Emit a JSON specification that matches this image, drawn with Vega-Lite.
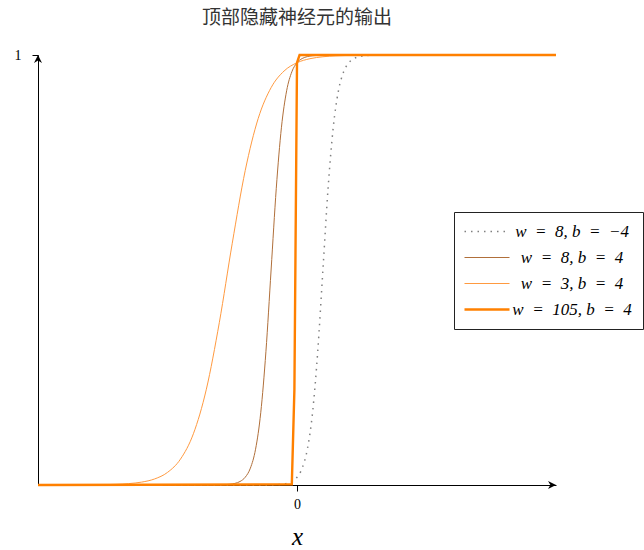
{
  "$schema": "https://vega.github.io/schema/vega-lite/v6.json",
  "width": 518,
  "height": 430,
  "autosize": "none",
  "padding": {"left": 38, "top": 55, "right": 88, "bottom": 65},
  "background": "white",
  "title": {"text": "顶部隐藏神经元的输出", "font": "Noto Sans CJK SC", "fontSize": 19, "fontWeight": "normal", "color": "#333333", "offset": 20, "anchor": "middle"},
  "config": {"view": {"stroke": null}},
  "datasets": {
    "curves": [
      {"series": "A", "x": -5, "y": 0},
      {"series": "A", "x": -1, "y": 0.000006},
      {"series": "A", "x": -0.6, "y": 0.00015},
      {"series": "A", "x": -0.4, "y": 0.00075},
      {"series": "A", "x": -0.3, "y": 0.00166},
      {"series": "A", "x": -0.2, "y": 0.00368},
      {"series": "A", "x": -0.1, "y": 0.00816},
      {"series": "A", "x": 0, "y": 0.01799},
      {"series": "A", "x": 0.1, "y": 0.0392},
      {"series": "A", "x": 0.2, "y": 0.0832},
      {"series": "A", "x": 0.3, "y": 0.168},
      {"series": "A", "x": 0.4, "y": 0.31},
      {"series": "A", "x": 0.5, "y": 0.5},
      {"series": "A", "x": 0.6, "y": 0.69},
      {"series": "A", "x": 0.7, "y": 0.832},
      {"series": "A", "x": 0.8, "y": 0.9168},
      {"series": "A", "x": 0.9, "y": 0.9608},
      {"series": "A", "x": 1.0, "y": 0.982},
      {"series": "A", "x": 1.1, "y": 0.9918},
      {"series": "A", "x": 1.2, "y": 0.9963},
      {"series": "A", "x": 1.3, "y": 0.9983},
      {"series": "A", "x": 1.4, "y": 0.99925},
      {"series": "A", "x": 1.6, "y": 0.99985},
      {"series": "A", "x": 2, "y": 1},
      {"series": "A", "x": 5, "y": 1},

      {"series": "B", "x": -5, "y": 0},
      {"series": "B", "x": -2, "y": 0.000006},
      {"series": "B", "x": -1.6, "y": 0.00015},
      {"series": "B", "x": -1.5, "y": 0.000335},
      {"series": "B", "x": -1.4, "y": 0.00075},
      {"series": "B", "x": -1.3, "y": 0.00166},
      {"series": "B", "x": -1.2, "y": 0.00368},
      {"series": "B", "x": -1.1, "y": 0.00816},
      {"series": "B", "x": -1.0, "y": 0.01799},
      {"series": "B", "x": -0.9, "y": 0.0392},
      {"series": "B", "x": -0.8, "y": 0.0832},
      {"series": "B", "x": -0.7, "y": 0.168},
      {"series": "B", "x": -0.6, "y": 0.31},
      {"series": "B", "x": -0.5, "y": 0.5},
      {"series": "B", "x": -0.4, "y": 0.69},
      {"series": "B", "x": -0.3, "y": 0.832},
      {"series": "B", "x": -0.2, "y": 0.9168},
      {"series": "B", "x": -0.1, "y": 0.9608},
      {"series": "B", "x": 0, "y": 0.982},
      {"series": "B", "x": 0.1, "y": 0.9918},
      {"series": "B", "x": 0.2, "y": 0.9963},
      {"series": "B", "x": 0.3, "y": 0.9983},
      {"series": "B", "x": 0.4, "y": 0.99925},
      {"series": "B", "x": 0.6, "y": 0.99985},
      {"series": "B", "x": 1, "y": 1},
      {"series": "B", "x": 5, "y": 1},

      {"series": "C", "x": -5, "y": 0.000017},
      {"series": "C", "x": -4.75, "y": 0.000035},
      {"series": "C", "x": -4.5, "y": 0.000075},
      {"series": "C", "x": -4.25, "y": 0.00016},
      {"series": "C", "x": -4, "y": 0.000335},
      {"series": "C", "x": -3.75, "y": 0.00071},
      {"series": "C", "x": -3.5, "y": 0.0015},
      {"series": "C", "x": -3.25, "y": 0.0032},
      {"series": "C", "x": -3, "y": 0.0067},
      {"series": "C", "x": -2.75, "y": 0.014},
      {"series": "C", "x": -2.5, "y": 0.0293},
      {"series": "C", "x": -2.25, "y": 0.0601},
      {"series": "C", "x": -2, "y": 0.1192},
      {"series": "C", "x": -1.75, "y": 0.2227},
      {"series": "C", "x": -1.5, "y": 0.3775},
      {"series": "C", "x": -1.25, "y": 0.5622},
      {"series": "C", "x": -1, "y": 0.7311},
      {"series": "C", "x": -0.75, "y": 0.852},
      {"series": "C", "x": -0.5, "y": 0.9241},
      {"series": "C", "x": -0.25, "y": 0.9627},
      {"series": "C", "x": 0, "y": 0.982},
      {"series": "C", "x": 0.25, "y": 0.9914},
      {"series": "C", "x": 0.5, "y": 0.9959},
      {"series": "C", "x": 0.75, "y": 0.9981},
      {"series": "C", "x": 1, "y": 0.9991},
      {"series": "C", "x": 1.5, "y": 0.9998},
      {"series": "C", "x": 2, "y": 0.99995},
      {"series": "C", "x": 3, "y": 1},
      {"series": "C", "x": 5, "y": 1},

      {"series": "D", "x": -5, "y": 0},
      {"series": "D", "x": -0.1, "y": 0.0015},
      {"series": "D", "x": -0.05, "y": 0.2227},
      {"series": "D", "x": 0, "y": 0.982},
      {"series": "D", "x": 0.05, "y": 0.9999},
      {"series": "D", "x": 5, "y": 1}
    ],
    "arrows": [
      {"x": 5, "y": 0, "dir": "right"},
      {"x": -5, "y": 1, "dir": "up"}
    ]
  },
  "layer": [
    {
      "data": {"name": "curves"},
      "transform": [{"filter": "datum.series === 'A'"}],
      "mark": {"type": "line", "interpolate": "monotone", "clip": false, "strokeWidth": 1.5, "strokeDash": [1.5, 5]},
      "encoding": {
        "x": {"field": "x", "type": "quantitative",
          "scale": {"domain": [-5, 5], "nice": false, "zero": false},
          "axis": {"values": [0], "grid": false, "domainColor": "#000000", "domainWidth": 1, "tickColor": "#000000", "tickSize": 6, "labelFont": "Liberation Serif", "labelFontSize": 14, "labelColor": "#000000", "labelPadding": 6, "title": "x", "titleFont": "Liberation Serif", "titleFontStyle": "italic", "titleFontWeight": "normal", "titleFontSize": 25, "titleColor": "#000000", "titleY": 51, "titleBaseline": "middle"}},
        "y": {"field": "y", "type": "quantitative",
          "scale": {"domain": [0, 1], "nice": false},
          "axis": {"values": [1], "format": "d", "grid": false, "domainColor": "#000000", "domainWidth": 1, "tickColor": "#000000", "tickSize": 6, "labelFont": "Liberation Serif", "labelFontSize": 14, "labelColor": "#000000", "labelPadding": 11, "title": null}},
        "color": {"field": "series", "type": "nominal",
          "scale": {"domain": ["A", "B", "C", "D"], "range": ["#808080", "#b06f3a", "#ff9a40", "#ff8000"]},
          "legend": {"orient": "none", "legendX": 416, "legendY": 157, "title": null,
            "symbolType": "M-1.8,0L7.2,0", "symbolSize": 100,
            "labelExpr": "datum.value === 'A' ? 'w\u2002=\u20028, b\u2002=\u2002−4' : datum.value === 'B' ? 'w\u2002=\u20028, b\u2002=\u20024' : datum.value === 'C' ? 'w\u2002=\u20023, b\u2002=\u20024' : 'w\u2002=\u2002105, b\u2002=\u20024'",
            "labelFont": "Liberation Serif", "labelFontStyle": "italic", "labelFontSize": 17, "labelColor": "#000000", "labelAlign": "center", "labelOffset": 90,
            "padding": 11, "rowPadding": 8, "strokeColor": "#222222", "fillColor": "#ffffff", "cornerRadius": 0,
            "encode": {"symbols": {"update": {
              "strokeDash": {"signal": "datum.value === 'A' ? [1.5, 5] : []"},
              "strokeWidth": {"signal": "datum.value === 'D' ? 2.4 : datum.value === 'A' ? 1.5 : 1"}
            }}}}}
      }
    },
    {
      "data": {"name": "curves"},
      "transform": [{"filter": "datum.series === 'B'"}],
      "mark": {"type": "line", "interpolate": "monotone", "clip": false, "strokeWidth": 1},
      "encoding": {
        "x": {"field": "x", "type": "quantitative"},
        "y": {"field": "y", "type": "quantitative"},
        "color": {"field": "series", "type": "nominal"}
      }
    },
    {
      "data": {"name": "curves"},
      "transform": [{"filter": "datum.series === 'C'"}],
      "mark": {"type": "line", "interpolate": "monotone", "clip": false, "strokeWidth": 1},
      "encoding": {
        "x": {"field": "x", "type": "quantitative"},
        "y": {"field": "y", "type": "quantitative"},
        "color": {"field": "series", "type": "nominal"}
      }
    },
    {
      "data": {"name": "curves"},
      "transform": [{"filter": "datum.series === 'D'"}],
      "mark": {"type": "line", "interpolate": "linear", "clip": false, "strokeWidth": 2.4},
      "encoding": {
        "x": {"field": "x", "type": "quantitative"},
        "y": {"field": "y", "type": "quantitative"},
        "color": {"field": "series", "type": "nominal"}
      }
    },
    {
      "data": {"name": "arrows"},
      "mark": {"type": "point", "filled": true, "color": "#000000", "opacity": 1, "size": 64, "clip": false},
      "encoding": {
        "x": {"field": "x", "type": "quantitative"},
        "y": {"field": "y", "type": "quantitative"},
        "shape": {"field": "dir", "type": "nominal",
          "scale": {"domain": ["right", "up"], "range": ["M-2,-1L0,0L-2,1L-1.4,0Z", "M-1,2L0,0L1,2L0,1.4Z"]},
          "legend": null}
      }
    }
  ]
}
